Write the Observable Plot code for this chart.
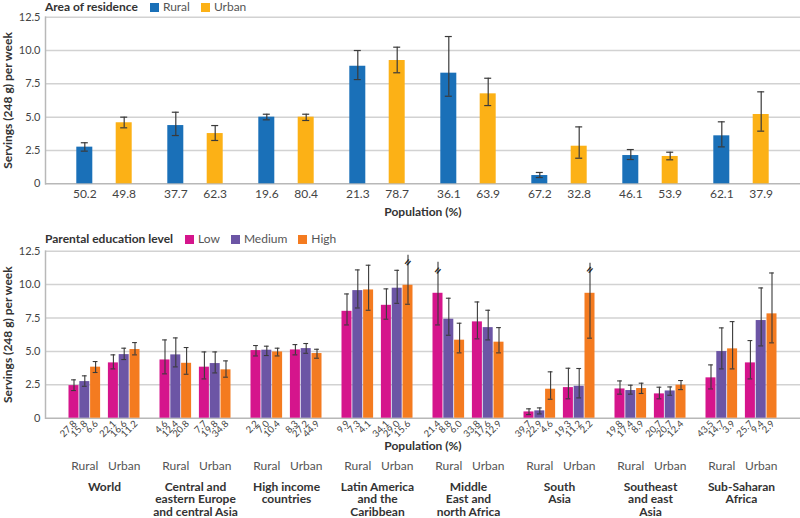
<!DOCTYPE html>
<html><head><meta charset="utf-8">
<script src="https://cdn.jsdelivr.net/npm/d3@7"></script>
<script src="https://cdn.jsdelivr.net/npm/@observablehq/plot@0.6"></script>
<style>
body{margin:0;background:#fff;font-family:Lato,sans-serif;}
#wrap{position:relative;width:800px;height:518px;overflow:hidden;background:#fff}
#wrap svg{position:absolute;left:0}
.leg{position:absolute;left:45px;display:flex;align-items:center;font-size:12px;line-height:14px;color:#333;white-space:nowrap}
.leg b{font-weight:700;margin-right:12px}
.sw{display:inline-block;width:9px;height:9px;margin-right:4px}
.it{margin-right:11px;color:#555}
</style></head><body><div id="wrap"></div>
<script>
// ---- categories ----
const regions = ["World","Central and eastern Europe and central Asia","High income countries","Latin America and the Caribbean","Middle East and north Africa","South Asia","Southeast and east Asia","Sub-Saharan Africa"];
const regionLabels = ["World","Central and\neastern Europe\nand central Asia","High income\ncountries","Latin America\nand the\nCaribbean","Middle\nEast and\nnorth Africa","South\nAsia","Southeast\nand east\nAsia","Sub-Saharan\nAfrica"];
const areas = ["Rural","Urban"];
const levels = ["Low","Medium","High"];
const yTicks = [0,2.5,5,7.5,10,12.5];

// ---- top panel: area of residence ----
const ruralMean = [2.75,4.37,5.0,8.82,8.3,0.62,2.12,3.6];
const ruralLo   = [2.45,3.62,4.8,7.82,6.57,0.47,1.82,2.77];
const ruralHi   = [3.08,5.37,5.22,10.0,11.05,0.85,2.57,4.65];
const ruralPop  = [50.2,37.7,19.6,21.3,36.1,67.2,46.1,62.1];
const urbanMean = [4.58,3.77,5.0,9.25,6.75,2.82,2.05,5.2];
const urbanLo   = [4.2,3.25,4.75,8.33,5.87,1.92,1.8,3.95];
const urbanHi   = [5.0,4.37,5.22,10.25,7.92,4.27,2.37,6.9];
const urbanPop  = [49.8,62.3,80.4,78.7,63.9,32.8,53.9,37.9];

// ---- bottom panel: parental education level ----
const ruralLowMean  = [2.44,4.36,5.06,8.0,9.35,0.47,2.19,3.02];
const ruralLowLo    = [2.07,3.32,4.66,6.98,6.98,0.27,1.8,2.19];
const ruralLowHi    = [2.87,5.86,5.44,9.3,11.67,0.70,2.79,3.99];
const ruralLowPop   = [27.8,4.6,2.2,9.9,21.4,39.7,19.8,43.5];
const ruralMedMean  = [2.74,4.74,5.09,9.55,7.41,0.55,2.07,4.99];
const ruralMedLo    = [2.39,3.84,4.69,8.25,6.21,0.32,1.8,3.69];
const ruralMedHi    = [3.17,6.01,5.39,11.1,8.98,0.77,2.47,6.76];
const ruralMedPop   = [15.8,12.4,7.0,7.3,8.8,22.9,17.4,14.7];
const ruralHighMean = [3.82,4.11,4.96,9.6,5.84,2.17,2.22,5.19];
const ruralHighLo   = [3.42,3.29,4.66,8.08,4.89,1.42,1.85,3.69];
const ruralHighHi   = [4.24,5.29,5.24,11.45,7.11,3.47,2.62,7.23];
const ruralHighPop  = [6.6,20.8,10.4,4.1,6.0,4.6,8.9,3.9];
const urbanLowMean  = [4.14,3.82,5.11,8.45,7.21,2.29,1.82,4.14];
const urbanLowLo    = [3.69,2.94,4.74,7.41,5.94,1.45,1.45,2.94];
const urbanLowHi    = [4.74,4.96,5.51,9.68,8.7,3.74,2.32,5.81];
const urbanLowPop   = [22.1,7.7,8.3,34.1,33.8,19.3,20.7,25.7];
const urbanMedMean  = [4.76,4.09,5.21,9.73,6.78,2.39,2.04,7.31];
const urbanMedLo    = [4.39,3.39,4.86,8.6,5.86,1.52,1.72,5.41];
const urbanMedHi    = [5.24,4.96,5.59,11.07,8.08,3.72,2.34,9.75];
const urbanMedPop   = [16.6,19.8,27.2,29.0,17.6,11.2,20.7,9.4];
const urbanHighMean = [5.14,3.62,4.84,9.95,5.69,9.35,2.47,7.81];
const urbanHighLo   = [4.74,3.07,4.49,8.53,4.89,5.99,2.14,5.64];
const urbanHighHi   = [5.66,4.29,5.16,12.2,6.78,11.6,2.82,10.87];
const urbanHighPop  = [11.2,34.8,44.9,15.6,12.9,2.2,12.4,2.9];
// upper limits cut off by the axis (break marks)
const truncRegion = ["Latin America and the Caribbean","Middle East and north Africa","South Asia"];
const truncArea   = ["Urban","Rural","Urban"];
const truncLevel  = ["High","Low","High"];
const truncAt     = [11.65,11.05,11.1];

// ---- styling ----
const areaColor = {Rural:"#1a70b8", Urban:"#fcb116"};
const levelColor = {Low:"#d5158c", Medium:"#6c55a5", High:"#f47b20"};
const areaOffset = {Rural:-19.7, Urban:19.7};
const levelOffset = {Low:-10.8, Medium:0, High:10.8};
const fmt = d => d === 0 ? "0" : d.toFixed(1);
const errColor = "#3a3a3a";
const fontStyle = {fontFamily:"Lato, sans-serif", fontSize:"12px", color:"#444", background:"transparent", overflow:"visible"};

// build tables
const topRows = [];
regions.forEach((r,i) => {
  topRows.push({region:r, area:"Rural", mean:ruralMean[i], lo:ruralLo[i], hi:ruralHi[i], pop:ruralPop[i]});
  topRows.push({region:r, area:"Urban", mean:urbanMean[i], lo:urbanLo[i], hi:urbanHi[i], pop:urbanPop[i]});
});
const src = {
  Rural:{Low:[ruralLowMean,ruralLowLo,ruralLowHi,ruralLowPop],Medium:[ruralMedMean,ruralMedLo,ruralMedHi,ruralMedPop],High:[ruralHighMean,ruralHighLo,ruralHighHi,ruralHighPop]},
  Urban:{Low:[urbanLowMean,urbanLowLo,urbanLowHi,urbanLowPop],Medium:[urbanMedMean,urbanMedLo,urbanMedHi,urbanMedPop],High:[urbanHighMean,urbanHighLo,urbanHighHi,urbanHighPop]}
};
const botRows = [];
regions.forEach((r,i) => areas.forEach(a => levels.forEach(l => {
  const [m,lo,hi,p] = src[a][l];
  const t = truncRegion.findIndex((tr,k) => tr===r && truncArea[k]===a && truncLevel[k]===l);
  botRows.push({region:r, area:a, level:l, mean:m[i], lo:lo[i], hi:hi[i], pop:p[i], trunc: t>=0, breakAt: t>=0 ? truncAt[t] : null});
})));

const yTitle = "Servings (248 g) per week";
function common() {
  return [
    Plot.ruleY(yTicks.filter(d => d > 0), {stroke:"#d2d2d2", strokeWidth:1.5}),
    Plot.axisY(yTicks, {tickSize:0, tickPadding:5, tickFormat:fmt, fill:"#444", fontSize:11, label:null}),
    Plot.ruleY([0], {stroke:"#b8b8b8", strokeWidth:1.5}),
    Plot.frame({anchor:"left", stroke:"#b8b8b8", strokeWidth:1.5}),
    Plot.text([yTitle], {frameAnchor:"left", textAnchor:"middle", rotate:-90, dx:-37, fontWeight:"bold", fontSize:12, fill:"#333"}),
    Plot.text(["Population (%)"], {frameAnchor:"bottom", lineAnchor:"middle", dy:28.4, fontWeight:"bold", fontSize:12, fill:"#333"})
  ];
}

// ---- top chart ----
const topMarks = common();
areas.forEach(a => {
  const rows = topRows.filter(d => d.area === a);
  const dx = areaOffset[a];
  topMarks.push(
    Plot.barY(rows, {x:"region", y:"mean", fill:areaColor[a], dx}),
    Plot.ruleX(rows, {x:"region", y1:"lo", y2:"hi", stroke:errColor, strokeWidth:1.2, dx}),
    Plot.tickY(rows, {x:"region", y:"hi", stroke:errColor, strokeWidth:1.2, dx, insetLeft:4.5, insetRight:4.5}),
    Plot.tickY(rows, {x:"region", y:"lo", stroke:errColor, strokeWidth:1.2, dx, insetLeft:4.5, insetRight:4.5}),
    Plot.text(rows, {x:"region", y:() => 0, text:d => d.pop.toFixed(1), dx, dy:10, fontSize:12, fill:"#444"})
  );
});
const topChart = Plot.plot({
  width:800, height:230, marginLeft:45, marginRight:0, marginTop:16.7, marginBottom:46.7,
  x:{domain:regions, paddingInner:0.8245, paddingOuter:0.5528, axis:null},
  y:{domain:[0,12.5]},
  style:fontStyle,
  marks: topMarks
});
topChart.style.top = "0px";

// ---- bottom chart ----
const botMarks = common();
areas.forEach(a => levels.forEach(l => {
  const rows = botRows.filter(d => d.area === a && d.level === l);
  const dx = areaOffset[a] + levelOffset[l];
  botMarks.push(
    Plot.barY(rows, {x:"region", y:"mean", fill:levelColor[l], dx}),
    Plot.ruleX(rows, {x:"region", y1:"lo", y2:"hi", stroke:errColor, strokeWidth:1.1, dx}),
    Plot.tickY(rows.filter(d => !d.trunc), {x:"region", y:"hi", stroke:errColor, strokeWidth:1.1, dx, insetLeft:2.6, insetRight:2.6}),
    Plot.tickY(rows, {x:"region", y:"lo", stroke:errColor, strokeWidth:1.1, dx, insetLeft:2.6, insetRight:2.6}),
    Plot.text(rows.filter(d => d.trunc), {x:"region", y:"breakAt", text:() => "=", rotate:-50, dx, fontWeight:"bold", fontSize:13, fill:"#222"}),
    Plot.text(rows, {x:"region", y:() => 0, text:d => d.pop.toFixed(1), rotate:-45, textAnchor:"end", dx:dx+1, dy:4, fontSize:9.5, fill:"#444"})
  );
}));
areas.forEach(a => botMarks.push(
  Plot.text(regions, {x:d => d, y:() => 0, text:() => a, dx:areaOffset[a], dy:48, fontSize:12, fill:"#555"})
));
botMarks.push(Plot.text(regions, {x:d => d, y:() => 0, text:(d,i) => regionLabels[i], dy:64.3, lineAnchor:"top", lineHeight:1.02, fontWeight:"bold", fontSize:12, fill:"#333"}));
const botChart = Plot.plot({
  width:800, height:288, marginLeft:45, marginRight:0, marginTop:20.7, marginBottom:100.3,
  x:{domain:regions, paddingInner:0.8936, paddingOuter:0.5873, axis:null},
  y:{domain:[0,12.5]},
  style:fontStyle,
  marks: botMarks
});
botChart.style.top = "230px";

const wrap = document.getElementById("wrap");
wrap.appendChild(topChart);
wrap.appendChild(botChart);

function legend(title, keys, colors, topPx) {
  const d = document.createElement("div");
  d.className = "leg";
  d.style.top = topPx + "px";
  d.innerHTML = `<b>${title}</b>` + keys.map(k => `<span class="sw" style="background:${colors[k]}"></span><span class="it">${k}</span>`).join("");
  wrap.appendChild(d);
}
legend("Area of residence", areas, areaColor, 0);
legend("Parental education level", levels, levelColor, 232);
</script></body></html>
